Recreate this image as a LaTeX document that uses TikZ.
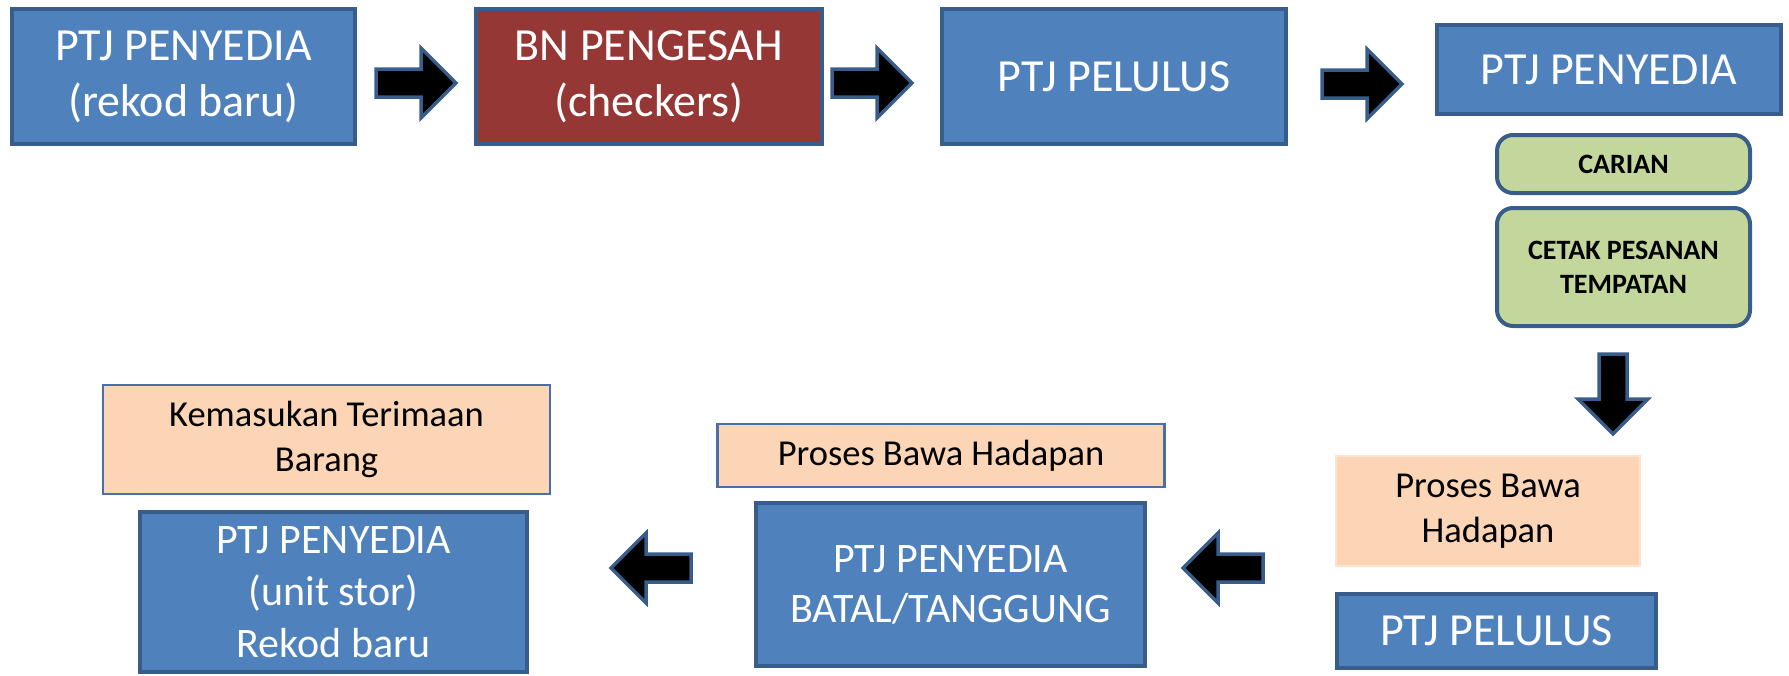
\documentclass[tikz,border=0pt]{standalone}
\usepackage{fontspec}
\setmainfont{Carlito}
\definecolor{boxblue}{HTML}{4F81BD}
\definecolor{edgeblue}{HTML}{385D8A}
\definecolor{boxred}{HTML}{953735}
\definecolor{boxgreen}{HTML}{C3D69B}
\definecolor{boxpeach}{HTML}{FBD5B5}
\definecolor{peachedge}{HTML}{FDE3CE}
\definecolor{thinedge}{HTML}{4A6FA5}
\begin{document}
\begin{tikzpicture}[x=1pt,y=-1pt,
  base/.style={rectangle, inner sep=0pt, align=center},
  bluebox/.style={base, fill=boxblue, draw=edgeblue, line width=4pt, text=white, font=\fontsize{46}{56}\selectfont},
  redbox/.style={bluebox, fill=boxred},
  greenbox/.style={base, fill=boxgreen, draw=edgeblue, line width=4pt, rounded corners=16pt, text=black, font=\fontsize{28}{34}\bfseries\selectfont},
  peachbox/.style={base, fill=boxpeach, draw=thinedge, line width=2.5pt, text=black, font=\fontsize{36.5}{45}\selectfont},
  softpeach/.style={peachbox, draw=peachedge},
  blockarrow/.style={fill=black, draw=edgeblue, line width=3.5pt, line join=miter},
  pics/rarrow/.style={code={\draw[blockarrow] (-40,-14) -- (5,-14) -- (5,-35) -- (40,0) -- (5,35) -- (5,14) -- (-40,14) -- cycle;}}
]
\useasboundingbox (0,0) rectangle (1789,675);
% top row
\node[bluebox, minimum width=343pt, minimum height=135pt] (b1) at (183.5,76.5) {PTJ PENYEDIA\\(rekod baru)};
\node[redbox, minimum width=346pt, minimum height=135pt] (b2) at (649,76.5) {BN PENGESAH\\(checkers)};
\node[bluebox, minimum width=344pt, minimum height=135pt] (b3) at (1114,76.5) {PTJ PELULUS};
\node[bluebox, minimum width=344pt, minimum height=89pt] (b4) at (1609,69.5) {PTJ PENYEDIA};
\node[greenbox, minimum width=253pt, minimum height=58pt] (g1) at (1623.5,164) {CARIAN};
\node[greenbox, minimum width=253pt, minimum height=118pt] (g2) at (1623.5,267) {CETAK PESANAN\\TEMPATAN};
% bottom row
\node[softpeach, minimum width=304pt, minimum height=110pt] (p3) at (1488,511) {Proses Bawa\\Hadapan};
\node[bluebox, minimum width=319pt, minimum height=74pt] (b7) at (1496.5,631) {PTJ PELULUS};
\node[peachbox, minimum width=447pt, minimum height=63pt] (p2) at (941,455.5) {Proses Bawa Hadapan};
\node[bluebox, font=\fontsize{42}{50}\selectfont, minimum width=389pt, minimum height=163pt] (b6) at (950.5,584.5) {PTJ PENYEDIA\\BATAL/TANGGUNG};
\node[peachbox, minimum width=447pt, minimum height=109pt] (p1) at (326.5,439.5) {Kemasukan Terimaan\\Barang};
\node[bluebox, font=\fontsize{42}{52}\selectfont, minimum width=387pt, minimum height=160pt] (b5) at (333.5,592) {PTJ PENYEDIA\\(unit stor)\\Rekod baru};
% block arrows
\pic at (416,83) {rarrow};
\pic at (872,83) {rarrow};
\pic at (1362,84) {rarrow};
\pic[rotate=-90] at (1613,394) {rarrow};
\pic[rotate=180] at (1223,568) {rarrow};
\pic[rotate=180] at (651,568) {rarrow};
\end{tikzpicture}
\end{document}
